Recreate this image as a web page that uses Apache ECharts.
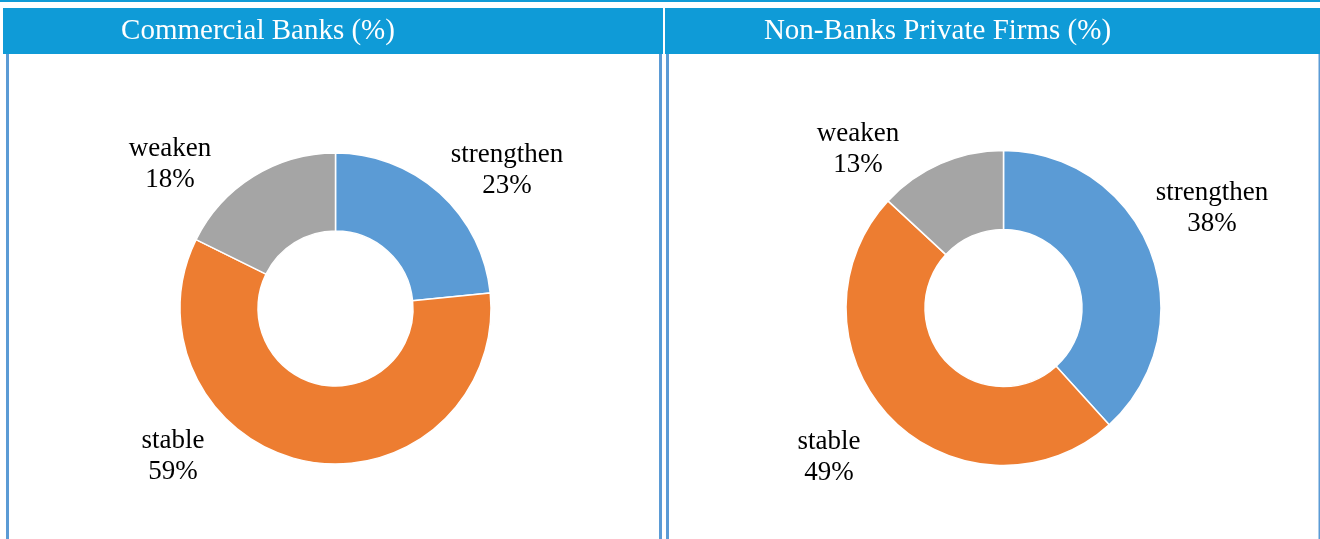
<!DOCTYPE html>
<html>
<head>
<meta charset="utf-8">
<script src="https://cdn.jsdelivr.net/npm/echarts@6/dist/echarts.min.js"></script>
<style>
  * { margin: 0; padding: 0; }
  body { background: #fff; }
  #main { width: 1320px; height: 539px; }
</style>
</head>
<body>
<div id="main"></div>
<script>
  // data (slice angles; labels show them rounded)
  const categories = ['strengthen', 'stable', 'weaken'];
  const bankValues = [23.4, 58.9, 17.7];
  const firmValues = [38.3, 48.6, 13.1];
  const panelTitles = ['Commercial Banks (%)', 'Non-Banks Private Firms (%)'];

  const colors = ['#5b9bd5', '#ed7d31', '#a5a5a5'];
  const headBlue = '#0f9bd7';
  const lineBlue = '#5b9bd5';
  const font = 'Liberation Serif, Times New Roman, serif';

  // where excel put the labels (centre of text block)
  const bankLabelPos = [[507, 170.5], [173, 456], [170, 164]];
  const firmLabelPos = [[1212, 208], [829, 457], [858, 149]];

  function toData (vals) {
    return categories.map((c, i) => ({ name: c, value: vals[i] }));
  }

  function pieSeries (vals, center, radius, labelPos) {
    return {
      type: 'pie',
      center: center,
      radius: radius,
      startAngle: 90,
      clockwise: true,
      avoidLabelOverlap: false,
      color: colors,
      itemStyle: { borderColor: '#fff', borderWidth: 1.5 },
      label: {
        show: true,
        position: 'outside',
        formatter: function (p) {
          return p.name + '\n' + Math.round(p.value) + '%';
        },
        color: '#000',
        fontFamily: font,
        fontSize: 27,
        lineHeight: 31
      },
      labelLine: { show: false },
      labelLayout: function (params) {
        const p = labelPos[params.dataIndex];
        return { x: p[0], y: p[1], align: 'center', verticalAlign: 'middle' };
      },
      emphasis: { disabled: true },
      data: toData(vals)
    };
  }

  const chart = echarts.init(document.getElementById('main'));
  chart.setOption({
    animation: false,
    graphic: [
      { type: 'rect', shape: { x: 0, y: 0, width: 1320, height: 2 }, style: { fill: headBlue } },
      { type: 'rect', shape: { x: 3, y: 8, width: 660, height: 46 }, style: { fill: headBlue } },
      { type: 'rect', shape: { x: 665, y: 8, width: 655, height: 46 }, style: { fill: headBlue } },
      { type: 'rect', shape: { x: 6, y: 54, width: 3, height: 485 }, style: { fill: lineBlue } },
      { type: 'rect', shape: { x: 659, y: 54, width: 3, height: 485 }, style: { fill: lineBlue } },
      { type: 'rect', shape: { x: 666, y: 54, width: 3, height: 485 }, style: { fill: lineBlue } },
      { type: 'rect', shape: { x: 1318.5, y: 54, width: 1.5, height: 485 }, style: { fill: lineBlue } },
      {
        type: 'text', x: 258, y: 31.5,
        style: { text: panelTitles[0], fill: '#fff', font: '29px ' + font, textAlign: 'center', textVerticalAlign: 'middle' }
      },
      {
        type: 'text', x: 937.5, y: 31.5,
        style: { text: panelTitles[1], fill: '#fff', font: '29px ' + font, textAlign: 'center', textVerticalAlign: 'middle' }
      }
    ],
    series: [
      pieSeries(bankValues, [335.5, 308.5], [77.5, 155.5], bankLabelPos),
      pieSeries(firmValues, [1003.5, 308], [78.5, 157.5], firmLabelPos)
    ]
  });
</script>
</body>
</html>
